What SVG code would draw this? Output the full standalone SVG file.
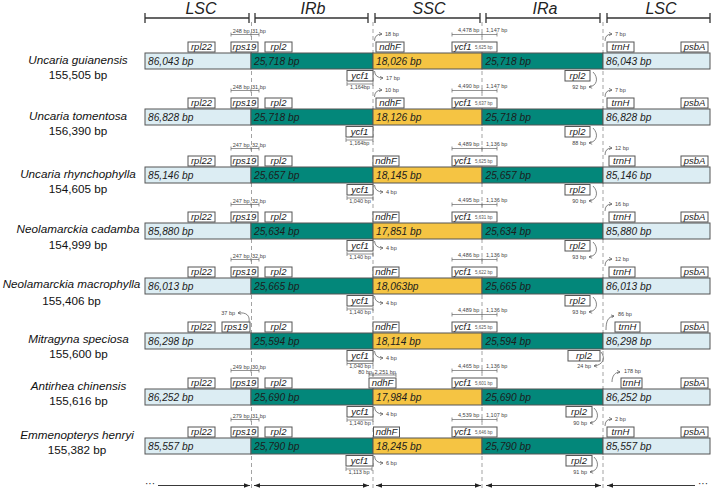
<svg xmlns="http://www.w3.org/2000/svg" width="713" height="490" viewBox="0 0 713 490">
<defs>
<marker id="ah" viewBox="0 0 6 6" refX="5" refY="3" markerWidth="4" markerHeight="4" orient="auto" markerUnits="userSpaceOnUse">
<path d="M0.5,0.5 L5,3 L0.5,5.5" fill="none" stroke="#555" stroke-width="1"/>
</marker>
<marker id="bh" viewBox="0 0 8 6" refX="8" refY="3" markerWidth="6" markerHeight="5" orient="auto-start-reverse" markerUnits="userSpaceOnUse">
<path d="M0,0 L8,3 L0,6 Z" fill="#222"/>
</marker>
</defs>
<style>
.lsc{fill:#dcedf3;stroke:#555;stroke-width:1}
.ir{fill:#03877a;stroke:#555;stroke-width:1}
.ssc{fill:#f5c443;stroke:#555;stroke-width:1}
.gene{fill:#fff;stroke:#555;stroke-width:1}
.gl{font-family:"Liberation Sans",Arial,sans-serif;font-style:italic;font-size:9.5px;fill:#222;text-anchor:middle}
.gs{font-family:"Liberation Sans",Arial,sans-serif;font-style:italic;font-size:9.5px;fill:#222}
.bl{font-family:"Liberation Sans",Arial,sans-serif;font-style:italic;font-size:10.2px;fill:#1c1c1c}
.sm{font-family:"Liberation Sans",Arial,sans-serif;font-size:5.5px;fill:#444}
.sme{font-family:"Liberation Sans",Arial,sans-serif;font-size:5.5px;fill:#444;text-anchor:end}
.smm{font-family:"Liberation Sans",Arial,sans-serif;font-size:5.5px;fill:#444;text-anchor:middle}
.tiny{font-family:"Liberation Sans",Arial,sans-serif;font-size:4.5px;fill:#555}
.sp{font-family:"Liberation Sans",Arial,sans-serif;font-style:italic;font-size:11.7px;fill:#111;text-anchor:middle}
.cnt{font-family:"Liberation Sans",Arial,sans-serif;font-size:11.7px;fill:#111;text-anchor:middle}
.hdr{font-family:"Liberation Sans",Arial,sans-serif;font-style:italic;font-size:16px;fill:#222;text-anchor:middle}
.dash{stroke:#999;stroke-width:0.9;stroke-dasharray:4 3;fill:none}
.sc{stroke:#666;stroke-width:0.7;fill:none}
.arr{stroke:#666;stroke-width:0.8;fill:none;marker-end:url(#ah)}
.brk{stroke:#333;stroke-width:1.3;fill:none}
.bot{stroke:#222;stroke-width:0.9;fill:none}
</style>
<rect width="713" height="490" fill="#fff"/>
<g id="header">
<path class="brk" d="M145,18H249M145,13V23M249,13V23M255,18H368M255,13V23M368,13V23M375,18H480M375,13V23M480,13V23M486,18H600M486,13V23M600,13V23M607,18H710M607,13V23M710,13V23"/>
<text class="hdr" x="201" y="13.5">LSC</text>
<text class="hdr" x="313" y="13.5">IRb</text>
<text class="hdr" x="429" y="13.5">SSC</text>
<text class="hdr" x="545" y="13.5">IRa</text>
<text class="hdr" x="661" y="13.5">LSC</text>
</g>
<g id="junctions">
<path class="dash" d="M251.5,22V490M373,22V490M482,22V490M603,22V490"/>
</g>

<g id="row1" transform="translate(0,53)">
<text class="sp" x="78" y="10.5">Uncaria guianensis</text><text class="cnt" x="78" y="26">155,505 bp</text>
<rect class="lsc" x="145" y="0" width="106" height="16"/><rect class="ir" x="251" y="0" width="122" height="16"/><rect class="ssc" x="373" y="0" width="109" height="16"/><rect class="ir" x="482" y="0" width="121" height="16"/><rect class="lsc" x="603" y="0" width="107" height="16"/>
<text class="bl" x="148" y="12">86,043 bp</text><text class="bl" x="254" y="12">25,718 bp</text><text class="bl" x="376" y="12">18,026 bp</text><text class="bl" x="485.5" y="12">25,718 bp</text><text class="bl" x="606" y="12">86,043 bp</text>
<rect class="gene" x="188" y="-11" width="27" height="10"/><text class="gl" x="201.5" y="-3">rpl22</text>
<rect class="gene" x="231" y="-11" width="27" height="10"/><text class="gl" x="244.5" y="-3">rps19</text>
<rect class="gene" x="265" y="-11" width="27" height="10"/><text class="gl" x="278.5" y="-3">rpl2</text>
<rect class="gene" x="376" y="-11" width="28" height="10"/><text class="gl" x="390" y="-3">ndhF</text>
<rect class="gene" x="452" y="-11" width="45" height="10"/><text class="gs" x="454" y="-3">ycf1</text><text class="tiny" x="475" y="-4">5,625 bp</text>
<rect class="gene" x="607" y="-11" width="27" height="10"/><text class="gl" x="620.5" y="-3">trnH</text>
<rect class="gene" x="681" y="-11" width="27" height="10"/><text class="gl" x="694.5" y="-3">psbA</text>
<rect class="gene" x="347" y="17.5" width="26" height="10.5"/><text class="gl" x="360" y="25.5">ycf1</text>
<rect class="gene" x="565" y="17.5" width="25" height="10.5"/><text class="gl" x="577.5" y="25.5">rpl2</text>
<g class="connectors">
<path class="sc" d="M231,-18.5H259M231,-20.5V-16.5M251,-20.5V-16.5M259,-20.5V-16.5"/>
<text class="sme" x="249.5" y="-20">248 bp</text><text class="sm" x="252" y="-20">31 bp</text>
<path class="sc" d="M452,-18.5H497M452,-20.5V-16.5M482,-20.5V-16.5M497,-20.5V-16.5"/>
<text class="sm" x="458" y="-21">4,478 bp</text><text class="sm" x="486" y="-21">1,147 bp</text>
<path class="arr" d="M374.5,-12Q374.5,-19 382,-19"/><text class="sm" x="385" y="-17">18 bp</text>
<path class="arr" d="M605,-12Q605,-19 612,-19"/><text class="sm" x="615" y="-17">7 bp</text>
<path class="arr" d="M374.5,18Q375,25 383,25"/><text class="sm" x="386" y="27">17 bp</text>
<path class="sc" d="M347,31H373M347,29V33M373,29V33"/><text class="smm" x="360" y="36">1,164bp</text>
<path class="arr" d="M593,19C599,25 597,33 589,34"/><text class="sme" x="586" y="36">92 bp</text>
</g>
</g>

<g id="row2" transform="translate(0,109)">
<text class="sp" x="78" y="10.5">Uncaria tomentosa</text><text class="cnt" x="78" y="26">156,390 bp</text>
<rect class="lsc" x="145" y="0" width="106" height="16"/><rect class="ir" x="251" y="0" width="122" height="16"/><rect class="ssc" x="373" y="0" width="109" height="16"/><rect class="ir" x="482" y="0" width="121" height="16"/><rect class="lsc" x="603" y="0" width="107" height="16"/>
<text class="bl" x="148" y="12">86,828 bp</text><text class="bl" x="254" y="12">25,718 bp</text><text class="bl" x="376" y="12">18,126 bp</text><text class="bl" x="485.5" y="12">25,718 bp</text><text class="bl" x="606" y="12">86,828 bp</text>
<rect class="gene" x="188" y="-11" width="27" height="10"/><text class="gl" x="201.5" y="-3">rpl22</text>
<rect class="gene" x="231" y="-11" width="27" height="10"/><text class="gl" x="244.5" y="-3">rps19</text>
<rect class="gene" x="265" y="-11" width="27" height="10"/><text class="gl" x="278.5" y="-3">rpl2</text>
<rect class="gene" x="376" y="-11" width="28" height="10"/><text class="gl" x="390" y="-3">ndhF</text>
<rect class="gene" x="452" y="-11" width="45" height="10"/><text class="gs" x="454" y="-3">ycf1</text><text class="tiny" x="475" y="-4">5,637 bp</text>
<rect class="gene" x="607" y="-11" width="27" height="10"/><text class="gl" x="620.5" y="-3">trnH</text>
<rect class="gene" x="681" y="-11" width="27" height="10"/><text class="gl" x="694.5" y="-3">psbA</text>
<rect class="gene" x="346" y="17.5" width="27" height="10.5"/><text class="gl" x="359.5" y="25.5">ycf1</text>
<rect class="gene" x="565" y="17.5" width="25" height="10.5"/><text class="gl" x="577.5" y="25.5">rpl2</text>
<g class="connectors">
<path class="sc" d="M231,-18.5H259M231,-20.5V-16.5M251,-20.5V-16.5M259,-20.5V-16.5"/>
<text class="sme" x="249.5" y="-20">248 bp</text><text class="sm" x="252" y="-20">31 bp</text>
<path class="sc" d="M452,-18.5H497M452,-20.5V-16.5M482,-20.5V-16.5M497,-20.5V-16.5"/>
<text class="sm" x="458" y="-21">4,490 bp</text><text class="sm" x="486" y="-21">1,147 bp</text>
<path class="arr" d="M374.5,-12Q374.5,-19 382,-19"/><text class="sm" x="385" y="-17">10 bp</text>
<path class="arr" d="M605,-12Q605,-19 612,-19"/><text class="sm" x="615" y="-17">7 bp</text>
<path class="sc" d="M346,31H373M346,29V33M373,29V33"/><text class="smm" x="359.5" y="36">1,164bp</text>
<path class="arr" d="M593,19C599,25 597,33 589,34"/><text class="sme" x="586" y="36">88 bp</text>
</g>
</g>

<g id="row3" transform="translate(0,167)">
<text class="sp" x="78" y="10.5">Uncaria rhynchophylla</text><text class="cnt" x="78" y="26">154,605 bp</text>
<rect class="lsc" x="145" y="0" width="106" height="16"/><rect class="ir" x="251" y="0" width="122" height="16"/><rect class="ssc" x="373" y="0" width="109" height="16"/><rect class="ir" x="482" y="0" width="121" height="16"/><rect class="lsc" x="603" y="0" width="107" height="16"/>
<text class="bl" x="148" y="12">85,146 bp</text><text class="bl" x="254" y="12">25,657 bp</text><text class="bl" x="376" y="12">18,145 bp</text><text class="bl" x="485.5" y="12">25,657 bp</text><text class="bl" x="606" y="12">85,146 bp</text>
<rect class="gene" x="188" y="-11" width="27" height="10"/><text class="gl" x="201.5" y="-3">rpl22</text>
<rect class="gene" x="231" y="-11" width="27" height="10"/><text class="gl" x="244.5" y="-3">rps19</text>
<rect class="gene" x="265" y="-11" width="27" height="10"/><text class="gl" x="278.5" y="-3">rpl2</text>
<rect class="gene" x="373" y="-11" width="26" height="10"/><text class="gl" x="386" y="-3">ndhF</text>
<rect class="gene" x="452" y="-11" width="45" height="10"/><text class="gs" x="454" y="-3">ycf1</text><text class="tiny" x="475" y="-4">5,625 bp</text>
<rect class="gene" x="609" y="-11" width="26" height="10"/><text class="gl" x="622" y="-3">trnH</text>
<rect class="gene" x="681" y="-11" width="27" height="10"/><text class="gl" x="694.5" y="-3">psbA</text>
<rect class="gene" x="347" y="17.5" width="26" height="10.5"/><text class="gl" x="360" y="25.5">ycf1</text>
<rect class="gene" x="565" y="17.5" width="25" height="10.5"/><text class="gl" x="577.5" y="25.5">rpl2</text>
<g class="connectors">
<path class="sc" d="M231,-18.5H259M231,-20.5V-16.5M251,-20.5V-16.5M259,-20.5V-16.5"/>
<text class="sme" x="249.5" y="-20">247 bp</text><text class="sm" x="252" y="-20">32 bp</text>
<path class="sc" d="M452,-18.5H497M452,-20.5V-16.5M482,-20.5V-16.5M497,-20.5V-16.5"/>
<text class="sm" x="458" y="-21">4,489 bp</text><text class="sm" x="486" y="-21">1,136 bp</text>
<path class="arr" d="M605,-12Q605,-19 612,-19"/><text class="sm" x="615" y="-17">12 bp</text>
<path class="arr" d="M374.5,18Q375,25 383,25"/><text class="sm" x="386" y="27">4 bp</text>
<path class="sc" d="M347,31H373M347,29V33M373,29V33"/><text class="smm" x="360" y="36">1,040 bp</text>
<path class="arr" d="M593,19C599,25 597,33 589,34"/><text class="sme" x="586" y="36">90 bp</text>
</g>
</g>

<g id="row4" transform="translate(0,223)">
<text class="sp" x="78" y="10">Neolamarckia cadamba</text><text class="cnt" x="78" y="26">154,999 bp</text>
<rect class="lsc" x="145" y="0" width="106" height="16"/><rect class="ir" x="251" y="0" width="122" height="16"/><rect class="ssc" x="373" y="0" width="109" height="16"/><rect class="ir" x="482" y="0" width="121" height="16"/><rect class="lsc" x="603" y="0" width="107" height="16"/>
<text class="bl" x="148" y="12">85,880 bp</text><text class="bl" x="254" y="12">25,634 bp</text><text class="bl" x="376" y="12">17,851 bp</text><text class="bl" x="485.5" y="12">25,634 bp</text><text class="bl" x="606" y="12">85,880 bp</text>
<rect class="gene" x="188" y="-11" width="27" height="10"/><text class="gl" x="201.5" y="-3">rpl22</text>
<rect class="gene" x="231" y="-11" width="27" height="10"/><text class="gl" x="244.5" y="-3">rps19</text>
<rect class="gene" x="265" y="-11" width="27" height="10"/><text class="gl" x="278.5" y="-3">rpl2</text>
<rect class="gene" x="373" y="-11" width="26" height="10"/><text class="gl" x="386" y="-3">ndhF</text>
<rect class="gene" x="452" y="-11" width="45" height="10"/><text class="gs" x="454" y="-3">ycf1</text><text class="tiny" x="475" y="-4">5,631 bp</text>
<rect class="gene" x="609" y="-11" width="26" height="10"/><text class="gl" x="622" y="-3">trnH</text>
<rect class="gene" x="681" y="-11" width="27" height="10"/><text class="gl" x="694.5" y="-3">psbA</text>
<rect class="gene" x="347" y="17.5" width="26" height="10.5"/><text class="gl" x="360" y="25.5">ycf1</text>
<rect class="gene" x="565" y="17.5" width="25" height="10.5"/><text class="gl" x="577.5" y="25.5">rpl2</text>
<g class="connectors">
<path class="sc" d="M231,-18.5H259M231,-20.5V-16.5M251,-20.5V-16.5M259,-20.5V-16.5"/>
<text class="sme" x="249.5" y="-20">247 bp</text><text class="sm" x="252" y="-20">32 bp</text>
<path class="sc" d="M452,-18.5H497M452,-20.5V-16.5M482,-20.5V-16.5M497,-20.5V-16.5"/>
<text class="sm" x="458" y="-21">4,495 bp</text><text class="sm" x="486" y="-21">1,136 bp</text>
<path class="arr" d="M605,-12Q605,-19 612,-19"/><text class="sm" x="615" y="-17">16 bp</text>
<path class="arr" d="M374.5,18Q375,25 383,25"/><text class="sm" x="386" y="27">4 bp</text>
<path class="sc" d="M347,31H373M347,29V33M373,29V33"/><text class="smm" x="360" y="36">1,140 bp</text>
<path class="arr" d="M593,19C599,25 597,33 589,34"/><text class="sme" x="586" y="36">93 bp</text>
</g>
</g>

<g id="row5" transform="translate(0,278)">
<text class="sp" x="71.5" y="10">Neolamarckia macrophylla</text><text class="cnt" x="71.5" y="26.5">155,406 bp</text>
<rect class="lsc" x="145" y="0" width="106" height="16"/><rect class="ir" x="251" y="0" width="122" height="16"/><rect class="ssc" x="373" y="0" width="109" height="16"/><rect class="ir" x="482" y="0" width="121" height="16"/><rect class="lsc" x="603" y="0" width="107" height="16"/>
<text class="bl" x="148" y="12">86,013 bp</text><text class="bl" x="254" y="12">25,665 bp</text><text class="bl" x="376" y="12">18,063bp</text><text class="bl" x="485.5" y="12">25,665 bp</text><text class="bl" x="606" y="12">86,013 bp</text>
<rect class="gene" x="188" y="-11" width="27" height="10"/><text class="gl" x="201.5" y="-3">rpl22</text>
<rect class="gene" x="231" y="-11" width="27" height="10"/><text class="gl" x="244.5" y="-3">rps19</text>
<rect class="gene" x="265" y="-11" width="27" height="10"/><text class="gl" x="278.5" y="-3">rpl2</text>
<rect class="gene" x="373" y="-11" width="26" height="10"/><text class="gl" x="386" y="-3">ndhF</text>
<rect class="gene" x="452" y="-11" width="45" height="10"/><text class="gs" x="454" y="-3">ycf1</text><text class="tiny" x="475" y="-4">5,622 bp</text>
<rect class="gene" x="609" y="-11" width="26" height="10"/><text class="gl" x="622" y="-3">trnH</text>
<rect class="gene" x="681" y="-11" width="27" height="10"/><text class="gl" x="694.5" y="-3">psbA</text>
<rect class="gene" x="347" y="17.5" width="26" height="10.5"/><text class="gl" x="360" y="25.5">ycf1</text>
<rect class="gene" x="565" y="17.5" width="25" height="10.5"/><text class="gl" x="577.5" y="25.5">rpl2</text>
<g class="connectors">
<path class="sc" d="M231,-18.5H259M231,-20.5V-16.5M251,-20.5V-16.5M259,-20.5V-16.5"/>
<text class="sme" x="249.5" y="-20">247 bp</text><text class="sm" x="252" y="-20">32 bp</text>
<path class="sc" d="M452,-18.5H497M452,-20.5V-16.5M482,-20.5V-16.5M497,-20.5V-16.5"/>
<text class="sm" x="458" y="-21">4,486 bp</text><text class="sm" x="486" y="-21">1,136 bp</text>
<path class="arr" d="M605,-12Q605,-19 612,-19"/><text class="sm" x="615" y="-17">12 bp</text>
<path class="arr" d="M374.5,18Q375,25 383,25"/><text class="sm" x="386" y="27">4 bp</text>
<path class="sc" d="M347,31H373M347,29V33M373,29V33"/><text class="smm" x="360" y="36">1,140 bp</text>
<path class="arr" d="M593,19C599,25 597,33 589,34"/><text class="sme" x="586" y="36">93 bp</text>
</g>
</g>

<g id="row6" transform="translate(0,333)">
<text class="sp" x="78.5" y="10">Mitragyna speciosa</text><text class="cnt" x="78.5" y="25">155,600 bp</text>
<rect class="lsc" x="145" y="0" width="106" height="16"/><rect class="ir" x="251" y="0" width="122" height="16"/><rect class="ssc" x="373" y="0" width="109" height="16"/><rect class="ir" x="482" y="0" width="121" height="16"/><rect class="lsc" x="603" y="0" width="107" height="16"/>
<text class="bl" x="148" y="12">86,298 bp</text><text class="bl" x="254" y="12">25,594 bp</text><text class="bl" x="376" y="12">18,114 bp</text><text class="bl" x="485.5" y="12">25,594 bp</text><text class="bl" x="606" y="12">86,298 bp</text>
<rect class="gene" x="188" y="-11" width="27" height="10"/><text class="gl" x="201.5" y="-3">rpl22</text>
<rect class="gene" x="222" y="-11" width="28" height="10"/><text class="gl" x="236" y="-3">rps19</text>
<rect class="gene" x="265" y="-11" width="27" height="10"/><text class="gl" x="278.5" y="-3">rpl2</text>
<rect class="gene" x="373" y="-11" width="26" height="10"/><text class="gl" x="386" y="-3">ndhF</text>
<rect class="gene" x="452" y="-11" width="45" height="10"/><text class="gs" x="454" y="-3">ycf1</text><text class="tiny" x="475" y="-4">5,625 bp</text>
<rect class="gene" x="615" y="-11" width="25" height="10"/><text class="gl" x="627.5" y="-3">trnH</text>
<rect class="gene" x="681" y="-11" width="27" height="10"/><text class="gl" x="694.5" y="-3">psbA</text>
<rect class="gene" x="347" y="17.5" width="26" height="10.5"/><text class="gl" x="360" y="25.5">ycf1</text>
<rect class="gene" x="568" y="17.5" width="32" height="10.5"/><text class="gl" x="584" y="25.5">rpl2</text>
<g class="connectors">
<path class="arr" d="M249,-11C250,-17 247,-21 238,-20"/><text class="sme" x="235" y="-18">37 bp</text>
<path class="sc" d="M452,-18.5H497M452,-20.5V-16.5M482,-20.5V-16.5M497,-20.5V-16.5"/>
<text class="sm" x="458" y="-21">4,489 bp</text><text class="sm" x="486" y="-21">1,136 bp</text>
<path class="arr" d="M606,-3C606,-12 608,-16 614,-17"/><text class="sm" x="618" y="-17">86 bp</text>
<path class="arr" d="M374.5,18Q375,25 383,25"/><text class="sm" x="386" y="27">4 bp</text>
<path class="sc" d="M347,30.5H373M347,28.5V32.5M373,28.5V32.5"/><text class="smm" x="360" y="35">1,040 bp</text>
<path class="arr" d="M601,19C606,25 603,32 594,33"/><text class="sme" x="591" y="35">24 bp</text>
</g>
</g>

<g id="row7" transform="translate(0,389)">
<text class="sp" x="78.5" y="0.5">Antirhea chinensis</text><text class="cnt" x="78.5" y="16">155,616 bp</text>
<rect class="lsc" x="145" y="0" width="106" height="16"/><rect class="ir" x="251" y="0" width="122" height="16"/><rect class="ssc" x="373" y="0" width="109" height="16"/><rect class="ir" x="482" y="0" width="121" height="16"/><rect class="lsc" x="603" y="0" width="107" height="16"/>
<text class="bl" x="148" y="12">86,252 bp</text><text class="bl" x="254" y="12">25,690 bp</text><text class="bl" x="376" y="12">17,984 bp</text><text class="bl" x="485.5" y="12">25,690 bp</text><text class="bl" x="606" y="12">86,252 bp</text>
<rect class="gene" x="188" y="-11" width="27" height="10"/><text class="gl" x="201.5" y="-3">rpl22</text>
<rect class="gene" x="231" y="-11" width="27" height="10"/><text class="gl" x="244.5" y="-3">rps19</text>
<rect class="gene" x="265" y="-11" width="27" height="10"/><text class="gl" x="278.5" y="-3">rpl2</text>
<rect class="gene" x="369" y="-11" width="27" height="10"/><text class="gl" x="382.5" y="-3">ndhF</text>
<rect class="gene" x="452" y="-11" width="45" height="10"/><text class="gs" x="454" y="-3">ycf1</text><text class="tiny" x="475" y="-4">5,601 bp</text>
<rect class="gene" x="621" y="-11" width="21" height="10"/><text class="gl" x="631.5" y="-3">trnH</text>
<rect class="gene" x="681" y="-11" width="27" height="10"/><text class="gl" x="694.5" y="-3">psbA</text>
<rect class="gene" x="347" y="17.5" width="26" height="10.5"/><text class="gl" x="360" y="25.5">ycf1</text>
<rect class="gene" x="566" y="17.5" width="26" height="10.5"/><text class="gl" x="579" y="25.5">rpl2</text>
<g class="connectors">
<path class="sc" d="M231,-18.5H259M231,-20.5V-16.5M251,-20.5V-16.5M259,-20.5V-16.5"/>
<text class="sme" x="249.5" y="-20">249 bp</text><text class="sm" x="252" y="-20">30 bp</text>
<path class="sc" d="M369,-14H396M369,-16V-12M373,-16V-12M396,-16V-12"/>
<text class="sme" x="372" y="-15.5">80 bp</text><text class="sm" x="374.5" y="-15.5">2,251 bp</text>
<path class="sc" d="M452,-18.5H497M452,-20.5V-16.5M482,-20.5V-16.5M497,-20.5V-16.5"/>
<text class="sm" x="458" y="-21">4,465 bp</text><text class="sm" x="486" y="-21">1,136 bp</text>
<path class="arr" d="M612,-7C612,-13 615,-17 620,-17"/><text class="sm" x="624" y="-16">178 bp</text>
<path class="arr" d="M374.5,18Q375,25 383,25"/><text class="sm" x="386" y="27">4 bp</text>
<path class="sc" d="M347,31H373M347,29V33M373,29V33"/><text class="smm" x="360" y="36">1,140 bp</text>
<path class="arr" d="M594,19C600,25 598,33 590,34"/><text class="sme" x="587" y="36">90 bp</text>
</g>
</g>

<g id="row8" transform="translate(0,438)">
<text class="sp" x="77" y="0.5">Emmenopterys henryi</text><text class="cnt" x="77" y="15.5">155,382 bp</text>
<rect class="lsc" x="145" y="0" width="106" height="16"/><rect class="ir" x="251" y="0" width="122" height="16"/><rect class="ssc" x="373" y="0" width="109" height="16"/><rect class="ir" x="482" y="0" width="121" height="16"/><rect class="lsc" x="603" y="0" width="107" height="16"/>
<text class="bl" x="148" y="12">85,557 bp</text><text class="bl" x="254" y="12">25,790 bp</text><text class="bl" x="376" y="12">18,245 bp</text><text class="bl" x="485.5" y="12">25,790 bp</text><text class="bl" x="606" y="12">85,557 bp</text>
<rect class="gene" x="188" y="-11" width="27" height="10"/><text class="gl" x="201.5" y="-3">rpl22</text>
<rect class="gene" x="231" y="-11" width="27" height="10"/><text class="gl" x="244.5" y="-3">rps19</text>
<rect class="gene" x="265" y="-11" width="27" height="10"/><text class="gl" x="278.5" y="-3">rpl2</text>
<rect class="gene" x="373.5" y="-11" width="26" height="10"/><text class="gl" x="386.5" y="-3">ndhF</text>
<rect class="gene" x="452" y="-11" width="45" height="10"/><text class="gs" x="454" y="-3">ycf1</text><text class="tiny" x="475" y="-4">5,646 bp</text>
<rect class="gene" x="607" y="-11" width="27" height="10"/><text class="gl" x="620.5" y="-3">trnH</text>
<rect class="gene" x="681" y="-11" width="27" height="10"/><text class="gl" x="694.5" y="-3">psbA</text>
<rect class="gene" x="346" y="17.5" width="27" height="10.5"/><text class="gl" x="359.5" y="25.5">ycf1</text>
<rect class="gene" x="566" y="17.5" width="26" height="10.5"/><text class="gl" x="579" y="25.5">rpl2</text>
<g class="connectors">
<path class="sc" d="M231,-18.5H259M231,-20.5V-16.5M251,-20.5V-16.5M259,-20.5V-16.5"/>
<text class="sme" x="249.5" y="-20">279 bp</text><text class="sm" x="252" y="-20">31 bp</text>
<path class="sc" d="M452,-18.5H497M452,-20.5V-16.5M482,-20.5V-16.5M497,-20.5V-16.5"/>
<text class="sm" x="458" y="-21">4,539 bp</text><text class="sm" x="486" y="-21">1,107 bp</text>
<path class="arr" d="M605,-12Q605,-19 612,-19"/><text class="sm" x="615" y="-17">2 bp</text>
<path class="arr" d="M374.5,18Q375,25 383,25"/><text class="sm" x="386" y="27">6 bp</text>
<path class="sc" d="M346,31H372M346,29V33M372,29V33"/><text class="smm" x="359" y="36">1,113 bp</text>
<path class="arr" d="M594,19C600,25 598,33 590,34"/><text class="sme" x="587" y="36">91 bp</text>
</g>
</g>

<g id="bottom-arrows">
<text x="145" y="487" font-family="Liberation Sans, Arial, sans-serif" font-size="10" fill="#222">···</text>
<path class="bot" d="M158,485.5H250" marker-end="url(#bh)"/>
<path class="bot" d="M254,485.5H369" marker-start="url(#bh)" marker-end="url(#bh)"/>
<path class="bot" d="M376,485.5H481" marker-start="url(#bh)" marker-end="url(#bh)"/>
<path class="bot" d="M486,485.5H601" marker-start="url(#bh)" marker-end="url(#bh)"/>
<path class="bot" d="M607,485.5H695" marker-start="url(#bh)"/>
<text x="698" y="487" font-family="Liberation Sans, Arial, sans-serif" font-size="10" fill="#222">···</text>
</g>
</svg>
